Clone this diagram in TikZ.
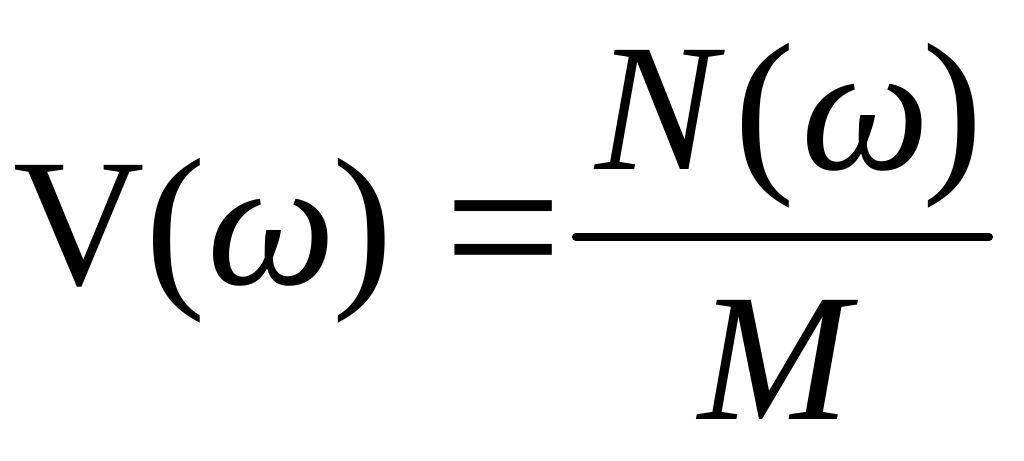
\documentclass[tikz,border=0pt]{standalone}
\usepackage{fontspec}
\setmainfont{Liberation Serif}
\begin{document}
\begin{tikzpicture}[x=1pt,y=1pt,
  glyph/.style={anchor=base west,inner sep=0pt,font=\fontsize{182}{200}\selectfont},
  glyphit/.style={anchor=base west,inner sep=0pt,font=\fontsize{182}{200}\selectfont\itshape},
  glyphc/.style={anchor=base,inner sep=0pt,font=\fontsize{182}{200}\selectfont\itshape},
  fracline/.style={line width=8pt,line cap=round}]
\useasboundingbox (0,0) rectangle (1024,460);
% left-hand side, baseline at y=175
\node[glyph] (v) at (13,175) {V};
\node[glyph] (lp) at (145.5,175) {(};
\node[glyphc] (w) at (272,175) {ω};
\node[glyph] (rp) at (332,175) {)};
\node[anchor=base,inner sep=0pt,font=\fontsize{182}{200}\selectfont,
      transform shape,xscale=1.15,yscale=1.2] (eq) at (503.5,159) {=};
% fraction bar
\coordinate (fl) at (576,223);
\coordinate (fr) at (989,223);
\draw[fracline] (fl) -- (fr);
% numerator, baseline at y=290
\node[glyphit] (n) at (595,290) {N};
\node[glyph] (nlp) at (734.5,290) {(};
\node[glyphc] (nw) at (866,290) {ω};
\node[glyph] (nrp) at (922,290) {)};
% denominator, baseline at y=40
\node[glyphit] (m) at (698,40) {M};
\end{tikzpicture}
\end{document}
